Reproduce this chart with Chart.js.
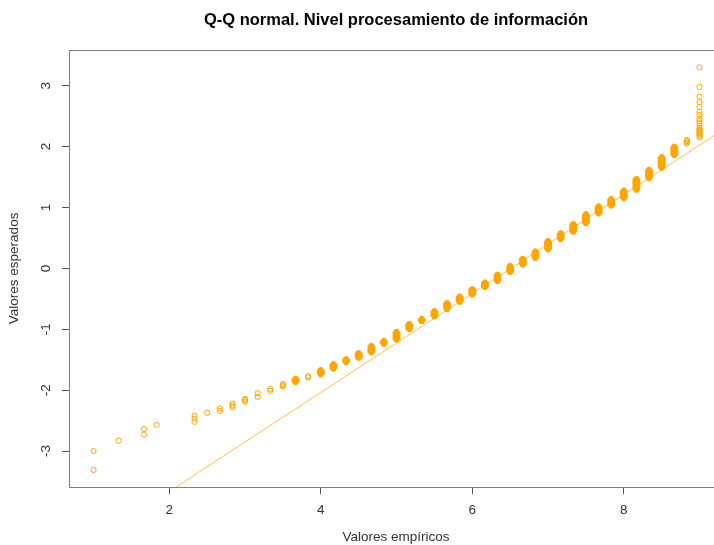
<!DOCTYPE html>
<html>
<head>
<meta charset="utf-8">
<script src="https://cdn.jsdelivr.net/npm/chart.js@4.4.0/dist/chart.umd.min.js"></script>
<style>
  html, body { margin: 0; padding: 0; background: #fff; overflow: hidden; }
  #qq { display: block; }
</style>
</head>
<body>
<canvas id="qq" width="740" height="545"></canvas>
<script>
// Grupos con muchos puntos: valor empírico y rango de valores esperados (primer y último punto)
const xDensos = [3.667, 4.0, 4.167, 4.333, 4.5, 4.667, 4.833, 5.0, 5.167, 5.333,
  5.5, 5.667, 5.833, 6.0, 6.167, 6.333, 6.5, 6.667, 6.833, 7.0,
  7.167, 7.333, 7.5, 7.667, 7.833, 8.0, 8.167, 8.333, 8.5, 8.667];
const yDensosMin = [-1.87, -1.74, -1.65, -1.54, -1.47, -1.38, -1.24, -1.17, -1.00, -0.87,
  -0.79, -0.67, -0.55, -0.43, -0.31, -0.21, -0.06, 0.06, 0.17, 0.31,
  0.48, 0.60, 0.74, 0.90, 1.03, 1.15, 1.29, 1.48, 1.65, 1.86];
const yDensosMax = [-1.81, -1.67, -1.57, -1.49, -1.39, -1.27, -1.19, -1.04, -0.91, -0.83,
  -0.70, -0.57, -0.46, -0.34, -0.23, -0.10, 0.04, 0.16, 0.28, 0.45,
  0.58, 0.73, 0.89, 1.02, 1.14, 1.28, 1.47, 1.62, 1.83, 2.00];

// Puntos sueltos (grupos con pocos casos)
const xAislados = [1, 1, 1.333, 1.667, 1.667, 1.833, 2.333, 2.333, 2.333, 2.5,
  2.667, 2.667, 2.833, 2.833, 2.833, 3.0, 3.0, 3.0, 3.167, 3.167,
  3.333, 3.333, 3.5, 3.5, 3.5, 3.833, 3.833,
  8.833, 8.833, 8.833, 8.833,
  9, 9, 9, 9, 9, 9, 9, 9, 9, 9, 9, 9, 9, 9, 9, 9, 9, 9, 9];
const yAislados = [-3.31, -3.00, -2.83, -2.73, -2.64, -2.57, -2.52, -2.47, -2.42, -2.37,
  -2.34, -2.30, -2.28, -2.25, -2.22, -2.19, -2.16, -2.14, -2.11, -2.05,
  -2.01, -1.98, -1.94, -1.92, -1.90, -1.79, -1.77,
  2.05, 2.07, 2.09, 2.11,
  2.15, 2.18, 2.20, 2.22, 2.24, 2.26, 2.28, 2.30, 2.34, 2.38, 2.42, 2.46, 2.52, 2.57, 2.65, 2.73, 2.82, 2.98, 3.30];

// Recta de referencia (qqline)
const xRecta = [2.09, 9.4];
const yRecta = [-3.59, 2.35];

const xTicks = [2, 4, 6, 8];
const yTicks = [-3, -2, -1, 0, 1, 2, 3];

const naranja = '#FFA500';
const fuente = '"Liberation Sans", Arial, Helvetica, sans-serif';
Chart.defaults.font.family = fuente;

// Marco del gráfico y etiquetas del eje y giradas, como en R
const marcoR = {
  id: 'marcoR',
  afterDraw(chart) {
    const { ctx, chartArea: a, scales: { y } } = chart;
    ctx.save();
    ctx.strokeStyle = '#808080';
    ctx.lineWidth = 1;
    ctx.strokeRect(Math.round(a.left) + 0.5, Math.round(a.top) + 0.5,
      Math.round(a.right - a.left), Math.round(a.bottom - a.top));
    ctx.fillStyle = '#333';
    ctx.font = '13.5px ' + fuente;
    ctx.textAlign = 'center';
    ctx.textBaseline = 'middle';
    yTicks.forEach(v => {
      ctx.save();
      ctx.translate(a.left - 23, y.getPixelForValue(v));
      ctx.rotate(-Math.PI / 2);
      ctx.fillText(String(v), 0, 0);
      ctx.restore();
    });
    ctx.restore();
  }
};

new Chart(document.getElementById('qq'), {
  type: 'bar',
  data: {
    datasets: [
      {
        type: 'line',
        order: 0,
        data: xRecta.map((x, i) => ({ x, y: yRecta[i] })),
        borderColor: 'rgba(255, 165, 0, 0.7)',
        borderWidth: 1,
        pointRadius: 0,
        fill: false
      },
      {
        type: 'scatter',
        order: 1,
        data: xAislados.map((x, i) => ({ x, y: yAislados[i] })),
        pointRadius: 2.6,
        borderWidth: 1,
        borderColor: naranja,
        backgroundColor: 'rgba(0,0,0,0)'
      },
      {
        type: 'scatter',
        order: 2,
        data: xDensos.map((x, i) => ({ x, y: yDensosMin[i] }))
          .concat(xDensos.map((x, i) => ({ x, y: yDensosMax[i] }))),
        pointRadius: 2.6,
        borderWidth: 1,
        borderColor: naranja,
        backgroundColor: naranja
      },
      {
        type: 'bar',
        order: 3,
        data: xDensos.map((x, i) => ({ x, y: [yDensosMin[i], yDensosMax[i]] })),
        backgroundColor: naranja,
        borderWidth: 0,
        barThickness: 7.2,
        borderSkipped: false
      }
    ]
  },
  options: {
    responsive: false,
    animation: false,
    events: [],
    layout: { padding: { left: 0, right: 17, top: 0, bottom: 0 } },
    plugins: {
      legend: { display: false },
      tooltip: { enabled: false },
      title: {
        display: true,
        fullSize: false,
        text: 'Q-Q normal. Nivel procesamiento de información',
        color: '#000',
        font: { size: 16.5, weight: 'bold', lineHeight: 1.2 },
        padding: { top: 11, bottom: 19 }
      }
    },
    scales: {
      x: {
        type: 'linear',
        min: 0.676,
        max: 9.31,
        offset: false,
        afterBuildTicks: s => { s.ticks = xTicks.map(v => ({ value: v })); },
        afterFit: s => { s.height = 58; },
        border: { display: false },
        grid: { offset: false, drawOnChartArea: false, drawTicks: true, tickLength: 7, tickColor: '#555' },
        ticks: { padding: 8, color: '#333', font: { size: 13.5 }, maxRotation: 0, callback: v => String(v) },
        title: {
          display: true,
          text: 'Valores empíricos',
          color: '#333',
          font: { size: 13.5, lineHeight: 1.2 },
          padding: { top: 0, bottom: 0 }
        }
      },
      y: {
        type: 'linear',
        min: -3.59,
        max: 3.59,
        afterBuildTicks: s => { s.ticks = yTicks.map(v => ({ value: v })); },
        afterFit: s => { s.width = 69; },
        border: { display: false },
        grid: { offset: false, drawOnChartArea: false, drawTicks: true, tickLength: 7, tickColor: '#555' },
        ticks: { display: false },
        title: {
          display: true,
          text: 'Valores esperados',
          color: '#333',
          font: { size: 13.5, lineHeight: 1.2 },
          padding: { top: 6, bottom: 0 }
        }
      }
    }
  },
  plugins: [marcoR]
});
</script>
</body>
</html>
